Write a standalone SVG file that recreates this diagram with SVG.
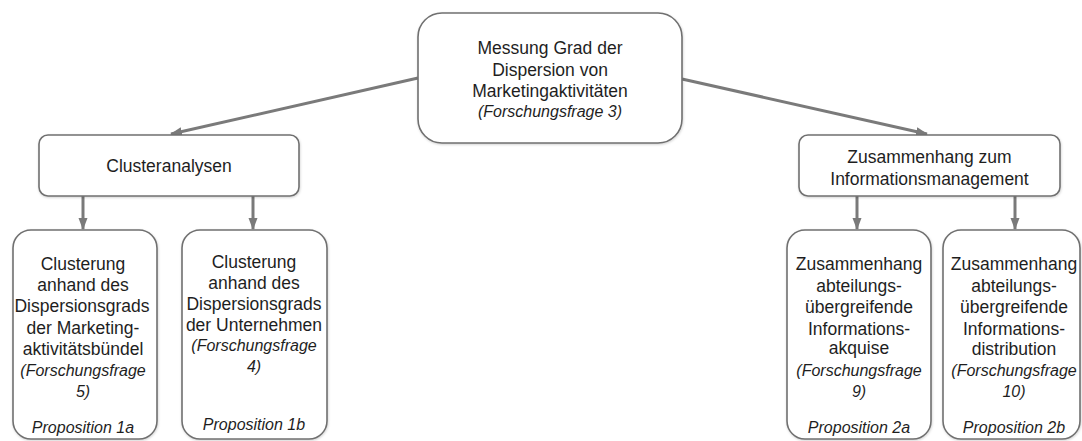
<svg xmlns="http://www.w3.org/2000/svg" width="1082" height="441" viewBox="0 0 1082 441">
  <style>
    .box { fill: #ffffff; stroke: #707070; stroke-width: 1.6; filter: url(#shadow); }
    .t { font-family: "Liberation Sans", Arial, Helvetica, sans-serif; font-size: 17.5px; fill: #1e1e1e; text-anchor: middle; }
    .i { font-family: "Liberation Sans", Arial, Helvetica, sans-serif; font-size: 16px; font-style: italic; fill: #1e1e1e; text-anchor: middle; }
    .edge { stroke: #7a7a7a; stroke-width: 3; fill: none; marker-end: url(#arrow); }
  </style>
  <defs>
    <filter id="shadow" x="-10%" y="-10%" width="120%" height="120%">
      <feDropShadow dx="0.5" dy="1" stdDeviation="1.2" flood-color="#000" flood-opacity="0.18"/>
    </filter>
    <marker id="arrow" markerUnits="userSpaceOnUse" markerWidth="12" markerHeight="10" viewBox="0 0 12 10" refX="11" refY="5" orient="auto">
      <path d="M0,0.5 L12,5 L0,9.5 z" fill="#7a7a7a"/>
    </marker>
  </defs>

  <g id="connectors">
    <line class="edge" x1="418" y1="78" x2="171" y2="134"/>
    <line class="edge" x1="682" y1="79" x2="927" y2="134"/>
    <line class="edge" x1="83" y1="196" x2="83" y2="229"/>
    <line class="edge" x1="253" y1="196" x2="253" y2="229"/>
    <line class="edge" x1="857" y1="196" x2="857" y2="229"/>
    <line class="edge" x1="1015" y1="196" x2="1015" y2="229"/>
  </g>

  <g id="node-root">
    <rect class="box" x="418" y="13" width="264" height="130" rx="24"/>
    <text class="t" x="550" y="54">Messung Grad der</text>
    <text class="t" x="550" y="76">Dispersion von</text>
    <text class="t" x="550" y="97">Marketingaktivitäten</text>
    <text class="i" x="550" y="117">(Forschungsfrage 3)</text>
  </g>

  <g id="node-cluster">
    <rect class="box" x="39" y="135" width="260" height="61" rx="9"/>
    <text class="t" x="169" y="172">Clusteranalysen</text>
  </g>

  <g id="node-info">
    <rect class="box" x="799" y="135" width="261" height="61" rx="9"/>
    <text class="t" x="929.5" y="163">Zusammenhang zum</text>
    <text class="t" x="929.5" y="185">Informationsmanagement</text>
  </g>

  <g id="node-1a">
    <rect class="box" x="13" y="230" width="144" height="209" rx="18"/>
    <text class="t" x="83" y="270">Clusterung</text>
    <text class="t" x="83" y="291">anhand des</text>
    <text class="t" x="82" y="312">Dispersionsgrads</text>
    <text class="t" x="83" y="333.5">der Marketing-</text>
    <text class="t" x="83" y="355">aktivitätsbündel</text>
    <text class="i" x="83" y="376">(Forschungsfrage</text>
    <text class="i" x="83" y="397">5)</text>
    <text class="i" x="83" y="433">Proposition 1a</text>
  </g>

  <g id="node-1b">
    <rect class="box" x="182" y="230" width="145" height="209" rx="18"/>
    <text class="t" x="254" y="268">Clusterung</text>
    <text class="t" x="254" y="289">anhand des</text>
    <text class="t" x="254" y="310">Dispersionsgrads</text>
    <text class="t" x="254" y="331">der Unternehmen</text>
    <text class="i" x="254" y="351">(Forschungsfrage</text>
    <text class="i" x="254" y="372">4)</text>
    <text class="i" x="254" y="430">Proposition 1b</text>
  </g>

  <g id="node-2a">
    <rect class="box" x="787" y="230" width="144" height="209" rx="18"/>
    <text class="t" x="859" y="270">Zusammenhang</text>
    <text class="t" x="859" y="291.5">abteilungs-</text>
    <text class="t" x="859" y="313">übergreifende</text>
    <text class="t" x="859" y="334.5">Informations-</text>
    <text class="t" x="859" y="354">akquise</text>
    <text class="i" x="859" y="376">(Forschungsfrage</text>
    <text class="i" x="859" y="397">9)</text>
    <text class="i" x="859" y="433">Proposition 2a</text>
  </g>

  <g id="node-2b">
    <rect class="box" x="943" y="230" width="137" height="209" rx="18"/>
    <text class="t" x="1014" y="270">Zusammenhang</text>
    <text class="t" x="1014" y="291.5">abteilungs-</text>
    <text class="t" x="1014" y="313">übergreifende</text>
    <text class="t" x="1014" y="334.5">Informations-</text>
    <text class="t" x="1014" y="355">distribution</text>
    <text class="i" x="1014" y="376">(Forschungsfrage</text>
    <text class="i" x="1014" y="397">10)</text>
    <text class="i" x="1014" y="433">Proposition 2b</text>
  </g>
</svg>
